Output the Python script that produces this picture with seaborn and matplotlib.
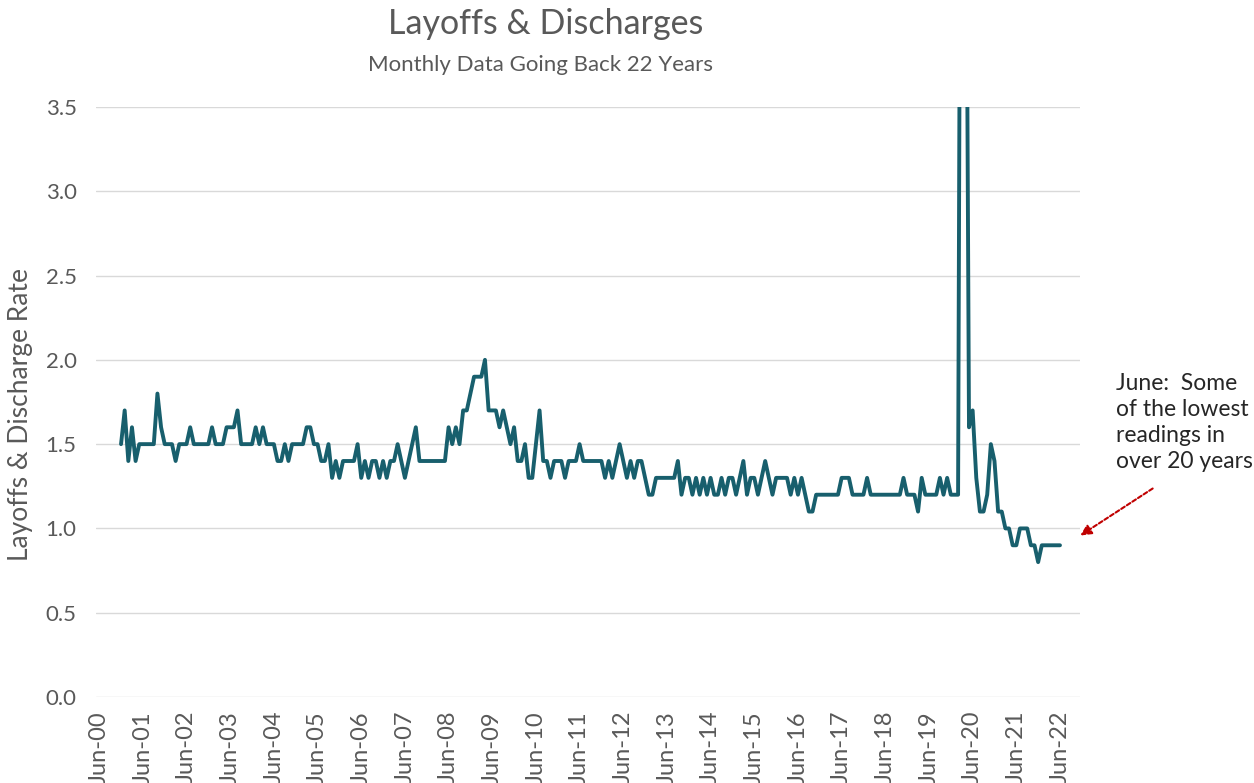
import numpy as np
import pandas as pd
import matplotlib
matplotlib.use("Agg")
import matplotlib.pyplot as plt
import seaborn as sns

# ---- data (JOLTS layoffs & discharges rate, monthly, Dec 2000 - Jun 2022) ----
rate_2000 = [1.5]  # Dec
rate_2001 = [1.7, 1.4, 1.6, 1.4, 1.5, 1.5, 1.5, 1.5, 1.5, 1.8, 1.6, 1.5]
rate_2002 = [1.5, 1.5, 1.4, 1.5, 1.5, 1.5, 1.6, 1.5, 1.5, 1.5, 1.5, 1.5]
rate_2003 = [1.6, 1.5, 1.5, 1.5, 1.6, 1.6, 1.6, 1.7, 1.5, 1.5, 1.5, 1.5]
rate_2004 = [1.6, 1.5, 1.6, 1.5, 1.5, 1.5, 1.4, 1.4, 1.5, 1.4, 1.5, 1.5]
rate_2005 = [1.5, 1.5, 1.6, 1.6, 1.5, 1.5, 1.4, 1.4, 1.5, 1.3, 1.4, 1.3]
rate_2006 = [1.4, 1.4, 1.4, 1.4, 1.5, 1.3, 1.4, 1.3, 1.4, 1.4, 1.3, 1.4]
rate_2007 = [1.3, 1.4, 1.4, 1.5, 1.4, 1.3, 1.4, 1.5, 1.6, 1.4, 1.4, 1.4]
rate_2008 = [1.4, 1.4, 1.4, 1.4, 1.4, 1.6, 1.5, 1.6, 1.5, 1.7, 1.7, 1.8]
rate_2009 = [1.9, 1.9, 1.9, 2.0, 1.7, 1.7, 1.7, 1.6, 1.7, 1.6, 1.5, 1.6]
rate_2010 = [1.4, 1.4, 1.5, 1.3, 1.3, 1.5, 1.7, 1.4, 1.4, 1.3, 1.4, 1.4]
rate_2011 = [1.4, 1.3, 1.4, 1.4, 1.4, 1.5, 1.4, 1.4, 1.4, 1.4, 1.4, 1.4]
rate_2012 = [1.3, 1.4, 1.3, 1.4, 1.5, 1.4, 1.3, 1.4, 1.3, 1.4, 1.4, 1.3]
rate_2013 = [1.2, 1.2, 1.3, 1.3, 1.3, 1.3, 1.3, 1.3, 1.4, 1.2, 1.3, 1.3]
rate_2014 = [1.2, 1.3, 1.2, 1.3, 1.2, 1.3, 1.2, 1.2, 1.3, 1.2, 1.3, 1.3]
rate_2015 = [1.2, 1.3, 1.4, 1.2, 1.3, 1.3, 1.2, 1.3, 1.4, 1.3, 1.2, 1.3]
rate_2016 = [1.3, 1.3, 1.3, 1.2, 1.3, 1.2, 1.3, 1.2, 1.1, 1.1, 1.2, 1.2]
rate_2017 = [1.2, 1.2, 1.2, 1.2, 1.2, 1.3, 1.3, 1.3, 1.2, 1.2, 1.2, 1.2]
rate_2018 = [1.3, 1.2, 1.2, 1.2, 1.2, 1.2, 1.2, 1.2, 1.2, 1.2, 1.3, 1.2]
rate_2019 = [1.2, 1.2, 1.1, 1.3, 1.2, 1.2, 1.2, 1.2, 1.3, 1.2, 1.3, 1.2]
rate_2020 = [1.2, 1.2, 7.5, 5.9, 1.6, 1.7, 1.3, 1.1, 1.1, 1.2, 1.5, 1.4]
rate_2021 = [1.1, 1.1, 1.0, 1.0, 0.9, 0.9, 1.0, 1.0, 1.0, 0.9, 0.9, 0.8]
rate_2022 = [0.9, 0.9, 0.9, 0.9, 0.9, 0.9]  # Jan - Jun

first_month_offset = 6  # Dec-00 is 6 months after Jun-00

tick_labels = ["Jun-00", "Jun-01", "Jun-02", "Jun-03", "Jun-04", "Jun-05",
               "Jun-06", "Jun-07", "Jun-08", "Jun-09", "Jun-10", "Jun-11",
               "Jun-12", "Jun-13", "Jun-14", "Jun-15", "Jun-16", "Jun-17",
               "Jun-18", "Jun-19", "Jun-20", "Jun-21", "Jun-22"]
y_ticks = [0.0, 0.5, 1.0, 1.5, 2.0, 2.5, 3.0, 3.5]

title = "Layoffs & Discharges"
subtitle = "Monthly Data Going Back 22 Years"
y_label = "Layoffs & Discharge Rate"
note = "June:  Some\nof the lowest\nreadings in\nover 20 years"

# ---- assemble ----
rates = (rate_2000 + rate_2001 + rate_2002 + rate_2003 + rate_2004 + rate_2005 +
         rate_2006 + rate_2007 + rate_2008 + rate_2009 + rate_2010 + rate_2011 +
         rate_2012 + rate_2013 + rate_2014 + rate_2015 + rate_2016 + rate_2017 +
         rate_2018 + rate_2019 + rate_2020 + rate_2021 + rate_2022)
df = pd.DataFrame({"month": np.arange(len(rates)) + first_month_offset,
                   "rate": rates})

sns.set_theme(style="white")
plt.rcParams["font.family"] = ["Lato", "DejaVu Sans"]

W, H = 1254, 783
fig = plt.figure(figsize=(W / 100, H / 100), dpi=100)
ax = fig.add_axes([96 / W, 86 / H, (1080 - 96) / W, (697 - 107) / H])

gray = "#595959"
sns.lineplot(data=df, x="month", y="rate", ax=ax, color="#185f6d",
             linewidth=2.8, zorder=3)

ax.set_ylim(0, 3.5)
ax.set_xlim(-0.88, 269.5)
ax.set_yticks(y_ticks)
ax.set_yticklabels([f"{v:.1f}" for v in y_ticks], color=gray, fontsize=16)
ax.set_xticks(np.arange(len(tick_labels)) * 12)
ax.set_xticklabels(tick_labels, rotation=90, color=gray, fontsize=17)
ax.tick_params(axis="both", length=0)
ax.tick_params(axis="y", pad=14)
ax.tick_params(axis="x", pad=10)
ax.grid(axis="y", color="#d9d9d9", linewidth=1.0)
ax.grid(axis="x", visible=False)
for s in ax.spines.values():
    s.set_visible(False)
ax.set_xlabel("")
ax.set_ylabel("")

fig.text(0.0165, 0.47, y_label, rotation=90, ha="center", va="center",
         color=gray, fontsize=19)
fig.text(546 / W, 1 - 24 / H, title, ha="center", va="center",
         color=gray, fontsize=24.5)
fig.text(540 / W, 1 - 65 / H, subtitle, ha="center", va="center",
         color=gray, fontsize=16)

fig.text(1116 / W, 1 - 373 / H, note, ha="left", va="top",
         color="#262626", fontsize=16.5, linespacing=1.3)

ax.annotate("", xy=(1078 / W, 1 - 537 / H), xycoords="figure fraction",
            xytext=(1155 / W, 1 - 487 / H), textcoords="figure fraction",
            arrowprops=dict(arrowstyle="-|>", color="#c00000", lw=1.5,
                            linestyle=(0, (2, 1.2)), mutation_scale=16),
            annotation_clip=False)

fig.savefig("out.png", dpi=100)
